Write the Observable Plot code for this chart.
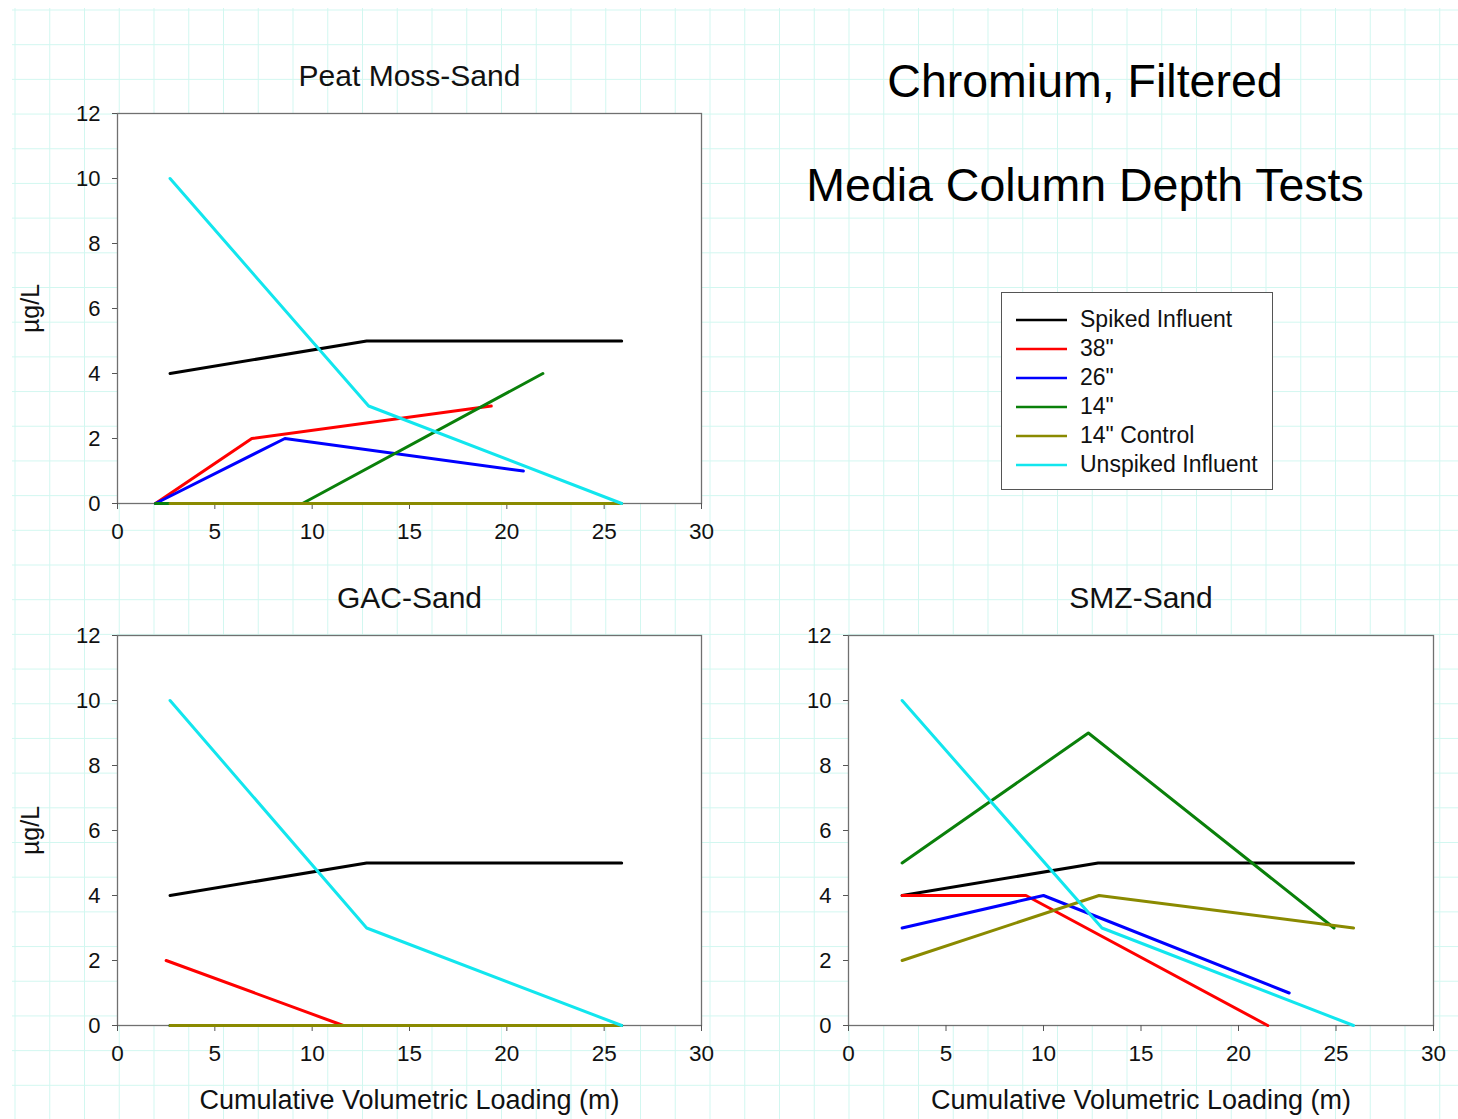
<!DOCTYPE html>
<html>
<head>
<meta charset="utf-8">
<script src="https://cdn.jsdelivr.net/npm/d3@7"></script>
<script src="https://cdn.jsdelivr.net/npm/@observablehq/plot@0.6"></script>
<style>
  html, body { margin: 0; padding: 0; background: #ffffff; }
  body { width: 1458px; height: 1119px; position: relative; overflow: hidden;
         font-family: "Liberation Sans", Arial, sans-serif; }
  #bg { position: absolute; left: 12px; top: 8px; width: 1446px; height: 1111px;
        background-image:
          linear-gradient(to right, rgb(210,247,240) 1.3px, transparent 1.3px),
          linear-gradient(to bottom, rgb(210,247,240) 1.3px, transparent 1.3px);
        background-size: 34.75px 34.7px;
        background-position: 2.5px 1.5px; }
  .panel { position: absolute; }
  .maintitle { position: absolute; left: 735px; width: 700px; text-align: center;
               font-size: 46.5px; line-height: 46px; color: #000; white-space: nowrap; }
  #legend { position: absolute; left: 1001px; top: 292px; width: 270px; height: 196px;
            border: 1.4px solid #555; background: #fff; }
  .lrow { position: absolute; left: 13px; height: 29px; display: flex; align-items: center; }
  .lrow svg { display: block; }
  .lrow span { margin-left: 12px; font-size: 23px; color: #111; white-space: nowrap; }
</style>
</head>
<body>
<div id="bg"></div>
<div class="maintitle" style="top:58px">Chromium, Filtered</div>
<div class="maintitle" style="top:162px">Media Column Depth Tests</div>
<div id="legend"></div>
<div id="p1" class="panel" style="left:0px; top:0px"></div>
<div id="p2" class="panel" style="left:0px; top:540px"></div>
<div id="p3" class="panel" style="left:731px; top:540px"></div>
<script>
// ---- series ----
const series = ["Spiked Influent", "38\"", "26\"", "14\"", "14\" Control", "Unspiked Influent"];
const colors = ["#000000", "#ff0000", "#0000ff", "#0a800a", "#8a8a00", "#12e6ee"];

// ---- axis ticks ----
const xTicks = [0, 5, 10, 15, 20, 25, 30];
const yTicks = [0, 2, 4, 6, 8, 10, 12];

// ---- panel titles / labels ----
const panelTitles = ["Peat Moss-Sand", "GAC-Sand", "SMZ-Sand"];
const yLabel = "µg/L";
const xLabel = "Cumulative Volumetric Loading (m)";

// ---- data: [x (cumulative volumetric loading, m), y (µg/L)] per series, in series order ----
const peatMoss = [
  [[2.7, 4], [12.8, 5], [25.9, 5]],            // Spiked Influent
  [[1.95, 0], [6.9, 2], [19.2, 3]],            // 38"
  [[1.95, 0], [8.6, 2], [20.85, 1]],           // 26"
  [[1.95, 0], [9.5, 0], [21.85, 4]],           // 14"
  [[2.7, 0], [12.8, 0], [25.9, 0]],            // 14" Control
  [[2.7, 10], [12.9, 3], [25.9, 0]]            // Unspiked Influent
];
const gacSand = [
  [[2.7, 4], [12.8, 5], [25.9, 5]],
  [[2.5, 2], [11.6, 0]],
  [[2.7, 0], [12.8, 0], [25.9, 0]],
  [[2.7, 0], [12.8, 0], [25.9, 0]],
  [[2.7, 0], [12.8, 0], [25.9, 0]],
  [[2.7, 10], [12.8, 3], [25.9, 0]]
];
const smzSand = [
  [[2.75, 4], [12.8, 5], [25.9, 5]],
  [[2.75, 4], [9.1, 4], [21.5, 0]],
  [[2.75, 3], [10.0, 4], [22.6, 1]],
  [[2.75, 5], [12.3, 9], [24.9, 3]],
  [[2.75, 2], [12.85, 4], [25.9, 3]],
  [[2.75, 10], [13.0, 3], [25.9, 0]]
];

function rowsOf(panel) {
  const rows = [];
  panel.forEach((pts, i) => pts.forEach(([x, y]) => rows.push({series: series[i], x, y})));
  return rows;
}

function makePanel(data, title, opts) {
  const marks = [
    Plot.frame({fill: "white", stroke: "#707070", strokeWidth: 1.3}),
    Plot.axisX(xTicks, {tickSize: 6, tickPadding: 14, fontSize: 22.5, label: null, stroke: "#555", fill: "#111"}),
    Plot.axisY(yTicks, {tickSize: 5, tickPadding: 12, fontSize: 22, label: null, stroke: "#555", fill: "#111"}),
    Plot.line(rowsOf(data), {x: "x", y: "y", z: "series", stroke: "series", strokeWidth: 3}),
    Plot.text([title], {text: d => d, frameAnchor: "top", dy: -37, fontSize: 30, fill: "#111", lineAnchor: "middle"})
  ];
  if (opts.yLabel) marks.push(Plot.text([yLabel], {text: d => d, frameAnchor: "left", textAnchor: "middle", dx: -87, rotate: -90, fontSize: 25, fill: "#111", lineAnchor: "middle"}));
  if (opts.xLabel) marks.push(Plot.text([xLabel], {text: d => d, frameAnchor: "bottom", dy: 75, fontSize: 27, fill: "#111", lineAnchor: "middle"}));
  return Plot.plot({
    width: opts.width, height: opts.height,
    marginLeft: 117, marginRight: opts.width - 117 - opts.plotW,
    marginTop: opts.marginTop, marginBottom: opts.height - opts.marginTop - 390,
    x: {domain: [0, 30]},
    y: {domain: [0, 12]},
    color: {domain: series, range: colors},
    style: {background: "transparent", fontFamily: "\"Liberation Sans\", Arial, sans-serif", overflow: "visible"},
    marks
  });
}

document.getElementById("p1").appendChild(makePanel(peatMoss, panelTitles[0], {width: 741, height: 563, marginTop: 113, plotW: 584, yLabel: true}));
document.getElementById("p2").appendChild(makePanel(gacSand, panelTitles[1], {width: 741, height: 579, marginTop: 95, plotW: 584, yLabel: true, xLabel: true}));
document.getElementById("p3").appendChild(makePanel(smzSand, panelTitles[2], {width: 727, height: 579, marginTop: 95, plotW: 585, xLabel: true}));

// ---- legend ----
const legend = document.getElementById("legend");
series.forEach((s, i) => {
  const row = document.createElement("div");
  row.className = "lrow";
  row.style.top = (12 + i * 29) + "px";
  row.innerHTML = `<svg width="53" height="6"><line x1="1" y1="3" x2="52" y2="3" stroke="${colors[i]}" stroke-width="2.4"/></svg><span></span>`;
  row.querySelector("span").textContent = s;
  legend.appendChild(row);
});
</script>
</body>
</html>
